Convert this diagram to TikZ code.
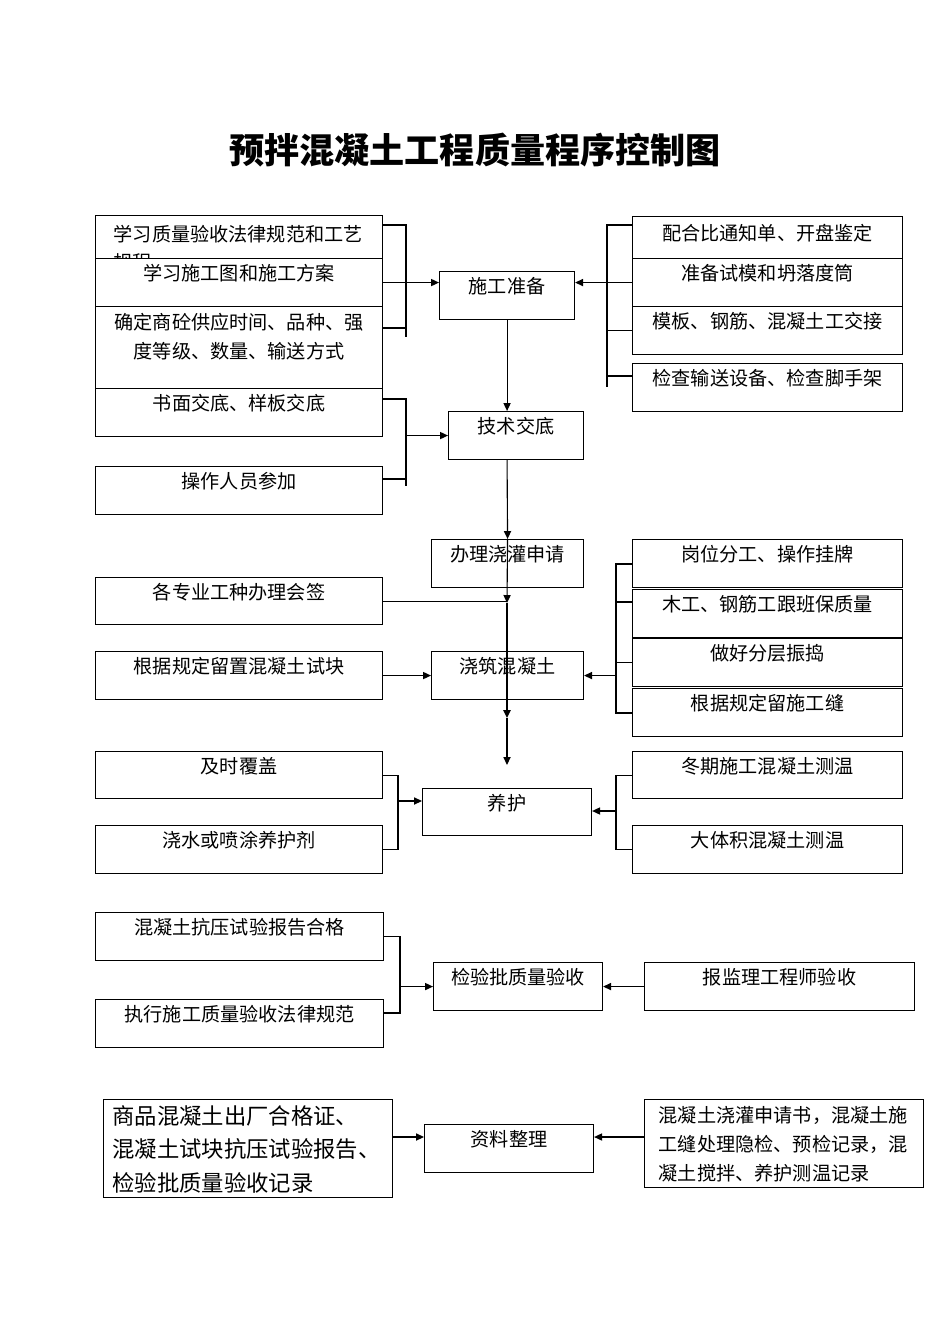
\documentclass[tikz,border=0pt]{standalone}
\usepackage{fontspec}
\setmainfont{Noto Sans CJK SC}
\usetikzlibrary{arrows.meta}

\begin{document}
\begin{tikzpicture}[x=0.6265pt,y=-0.6265pt]
    \tikzstyle{bx} = [draw, fill=white, line width=0.7pt, anchor=north west, inner sep=0pt, font=\fontsize{12}{18}\selectfont, text height=9pt, text depth=11pt]
    \tikzstyle{ln} = [line width=0.7pt]
    \tikzstyle{arr} = [line width=0.7pt, -{Triangle[length=5pt,width=4.5pt]}]
    \tikzset{sz/.style 2 args={minimum width=#1*0.6265pt, minimum height=#2*0.6265pt}}

    \useasboundingbox[fill=white] (0,0) rectangle (950,1344);

    \node[font=\fontsize{22}{26}\selectfont\bfseries] (title) at (475,150) {预拌混凝土工程质量程序控制图};

    \node[bx, sz={287}{80}, text width=157pt, align=left, text depth=27pt] (l1) at (95,215) {学习质量验收法律规范和工艺\\规程};
    \node[bx, sz={287}{48}] (l2) at (95,258) {学习施工图和施工方案};
    \node[bx, sz={287}{82}, text width=160pt, align=center, text depth=31pt] (l3) at (95,306) {确定商砼供应时间、品种、强\\度等级、数量、输送方式};
    \node[bx, sz={287}{48}] (l4) at (95,388) {书面交底、样板交底};
    \node[bx, sz={287}{48}] (l5) at (95,466) {操作人员参加};
    \node[bx, sz={135}{48}] (sg) at (439,271) {施工准备};
    \node[bx, sz={135}{48}] (js) at (448,411) {技术交底};
    \node[bx, sz={270}{42}, text depth=5pt] (r1) at (632,216) {配合比通知单、开盘鉴定};
    \node[bx, sz={270}{48}] (r2) at (632,258) {准备试模和坍落度筒};
    \node[bx, sz={270}{48}] (r3) at (632,306) {模板、钢筋、混凝土工交接};
    \node[bx, sz={270}{48}] (r4) at (632,363) {检查输送设备、检查脚手架};

    \node[bx, sz={152}{48}] (bl) at (431,539) {办理浇灌申请};
    \node[bx, sz={287}{47}] (gz) at (95,577) {各专业工种办理会签};
    \node[bx, sz={287}{48}] (gj) at (95,651) {根据规定留置混凝土试块};
    \node[bx, sz={152}{48}] (jz) at (431,651) {浇筑混凝土};
    \node[bx, sz={270}{48}] (m1) at (632,539) {岗位分工、操作挂牌};
    \node[bx, sz={270}{48}] (m2) at (632,589) {木工、钢筋工跟班保质量};
    \node[bx, sz={270}{48}] (m3) at (632,638) {做好分层振捣};
    \node[bx, sz={270}{48}] (m4) at (632,688) {根据规定留施工缝};
    \node[bx, sz={169}{47}] (yh) at (422,788) {养护};
    \node[bx, sz={287}{47}] (c1) at (95,751) {及时覆盖};
    \node[bx, sz={287}{48}] (c2) at (95,825) {浇水或喷涂养护剂};
    \node[bx, sz={270}{47}] (d1) at (632,751) {冬期施工混凝土测温};
    \node[bx, sz={270}{48}] (d2) at (632,825) {大体积混凝土测温};

    \node[bx, sz={288}{48}] (e1) at (95,912) {混凝土抗压试验报告合格};
    \node[bx, sz={288}{48}] (e2) at (95,999) {执行施工质量验收法律规范};
    \node[bx, sz={169}{48}] (jy) at (433,962) {检验批质量验收};
    \node[bx, sz={270}{48}] (bj) at (644,962) {报监理工程师验收};
    \node[bx, sz={169}{48}] (zl) at (424,1124) {资料整理};
    \node[bx, sz={289}{98}, font=\fontsize{14}{21}\selectfont, text height=10.5pt, text depth=41pt, text width=170pt, align=left] (f1) at (103,1099) {商品混凝土出厂合格证、\\混凝土试块抗压试验报告、\\检验批质量验收记录};
    \node[bx, sz={279}{88}, text width=157pt, align=left, text depth=35pt] (f2) at (644,1099) {混凝土浇灌申请书，混凝土施\\工缝处理隐检、预检记录，混\\凝土搅拌、养护测温记录};

    \coordinate (t1) at (406,225);
    \coordinate (t2) at (406,337);
    \coordinate (t3) at (406,328);
    \draw[ln] (l1.east |- t1) -- (t1) -- (t2);
    \draw[ln] (l3.east |- t3) -- (t3);
    \draw[arr] (l2.east) -- (sg.west |- l2.east);
    \coordinate (t4) at (406,399);
    \coordinate (t5) at (406,486);
    \coordinate (t6) at (406,479);
    \draw[ln] (l4.east |- t4) -- (t4) -- (t5);
    \draw[ln] (l5.east |- t6) -- (t6);
    \draw[arr] (t4 |- js.west) -- (js.west);

    \coordinate (u1) at (607,225);
    \coordinate (u2) at (607,387);
    \coordinate (u3) at (607,376);
    \draw[ln] (r1.west |- u1) -- (u1) -- (u2);
    \draw[ln] (r3.west) -- (r3.west -| u1);
    \draw[ln] (r4.west |- u3) -- (u3);
    \draw[arr] (r2.west) -- (sg.east |- r2.west);

    \draw[arr] (sg.south) -- (sg.south |- js.north);
    \draw[arr] (sg.south |- js.south) -- (bl.north);
    \coordinate (v1) at (507,603);
    \coordinate (v2) at (507,718);
    \coordinate (v3) at (507,765);
    \draw[arr] (bl.north) -- (v1);
    \draw[ln] (gz.east) -- (gz.east -| v1);
    \draw[arr, line width=1.2pt] (v1) -- (v2);
    \draw[arr] (v2) -- (v3);

    \draw[arr] (gj.east) -- (jz.west);
    \coordinate (w1) at (616,564);
    \coordinate (w2) at (616,713);
    \coordinate (w3) at (616,602);
    \draw[ln] (m1.west |- w1) -- (w1) -- (w2) -- (m4.west |- w2);
    \draw[ln] (m2.west |- w3) -- (w3);
    \draw[ln] (m3.west) -- (m3.west -| w1);
    \draw[arr] (w1 |- jz.east) -- (jz.east);

    \coordinate (k1) at (398,801);
    \draw[ln] (c1.east) -| (k1) |- (c2.east);
    \draw[arr] (k1) -- (yh.west |- k1);
    \coordinate (k2) at (616,811);
    \draw[ln] (d1.west) -| (k2) |- (d2.west);
    \draw[arr] (k2) -- (yh.east |- k2);

    \coordinate (n1) at (400,1013);
    \draw[ln] (e1.east) -| (n1) -- (e2.east |- n1);
    \draw[arr] (n1 |- jy.west) -- (jy.west);
    \draw[arr] (bj.west) -- (jy.east);
    \coordinate (n2) at (408,1137);
    \coordinate (n3) at (620,1137);
    \draw[arr] (f1.east |- n2) -- (zl.west |- n2);
    \draw[arr] (f2.west |- n3) -- (zl.east |- n3);
\end{tikzpicture}
\end{document}
